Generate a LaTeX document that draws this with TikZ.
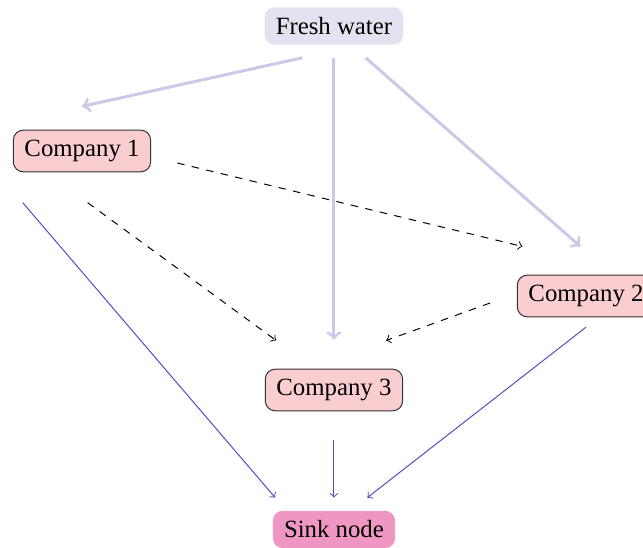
\documentclass[tikz,border=0pt]{standalone}
\usepackage{fontspec}
\setmainfont{Liberation Serif}
\definecolor{waterfill}{RGB}{228,226,240}
\definecolor{waterline}{RGB}{205,200,230}
\definecolor{companyfill}{RGB}{250,205,208}
\definecolor{sinkfill}{RGB}{240,150,195}
\definecolor{flowblue}{RGB}{75,80,190}

\begin{document}
\begin{tikzpicture}[
    box/.style={rounded corners=4pt, inner xsep=4.5pt, inner ysep=4pt},
    source/.style={box, fill=waterfill},
    company/.style={box, fill=companyfill, draw=black!80, line width=0.4pt},
    sink/.style={box, fill=sinkfill},
    supply/.style={->, draw=waterline, line width=1.2pt},
    reuse/.style={->, dashed, draw=black, line width=0.4pt},
    discharge/.style={->, draw=flowblue, line width=0.4pt}]
  \useasboundingbox (0,0) rectangle (9.113,7.766);
  \node[source]  (FW) at (4.733,7.398) {Fresh water};
  \node[company] (C1) at (1.162,5.626) {Company 1};
  \node[company] (C2) at (8.305,3.571) {Company 2};
  \node[company] (C3) at (4.733,2.239) {Company 3};
  \node[sink]    (SN) at (4.733,0.262) {Sink node};
  % fresh water supply
  \path ([xshift=-0.45cm,yshift=-0.18cm]FW.south) edge[supply] ([yshift=0.33cm]C1.north);
  \path ([yshift=-0.18cm]FW.south) edge[supply] ([yshift=0.41cm]C3.north);
  \path ([xshift=0.45cm,yshift=-0.18cm]FW.south) edge[supply] ([xshift=-0.08cm,yshift=0.40cm]C2.north);
  % reuse between companies
  \path ([xshift=0.37cm,yshift=-0.17cm]C1.east) edge[reuse] ([xshift=0.08cm,yshift=0.40cm]C2.north west);
  \path ([xshift=0.08cm,yshift=-0.43cm]C1.south) edge[reuse] ([xshift=0.16cm,yshift=0.40cm]C3.north west);
  \path ([xshift=-0.38cm,yshift=-0.10cm]C2.west) edge[reuse] ([xshift=-0.24cm,yshift=0.40cm]C3.north east);
  % discharge to the sink
  \path ([xshift=0.14cm,yshift=-0.43cm]C1.south west) edge[discharge] ([xshift=0.04cm,yshift=0.18cm]SN.north west);
  \path ([yshift=-0.41cm]C3.south) edge[discharge] ([yshift=0.18cm]SN.north);
  \path ([yshift=-0.14cm]C2.south) edge[discharge] ([xshift=-0.40cm,yshift=0.18cm]SN.north east);
\end{tikzpicture}
\end{document}
